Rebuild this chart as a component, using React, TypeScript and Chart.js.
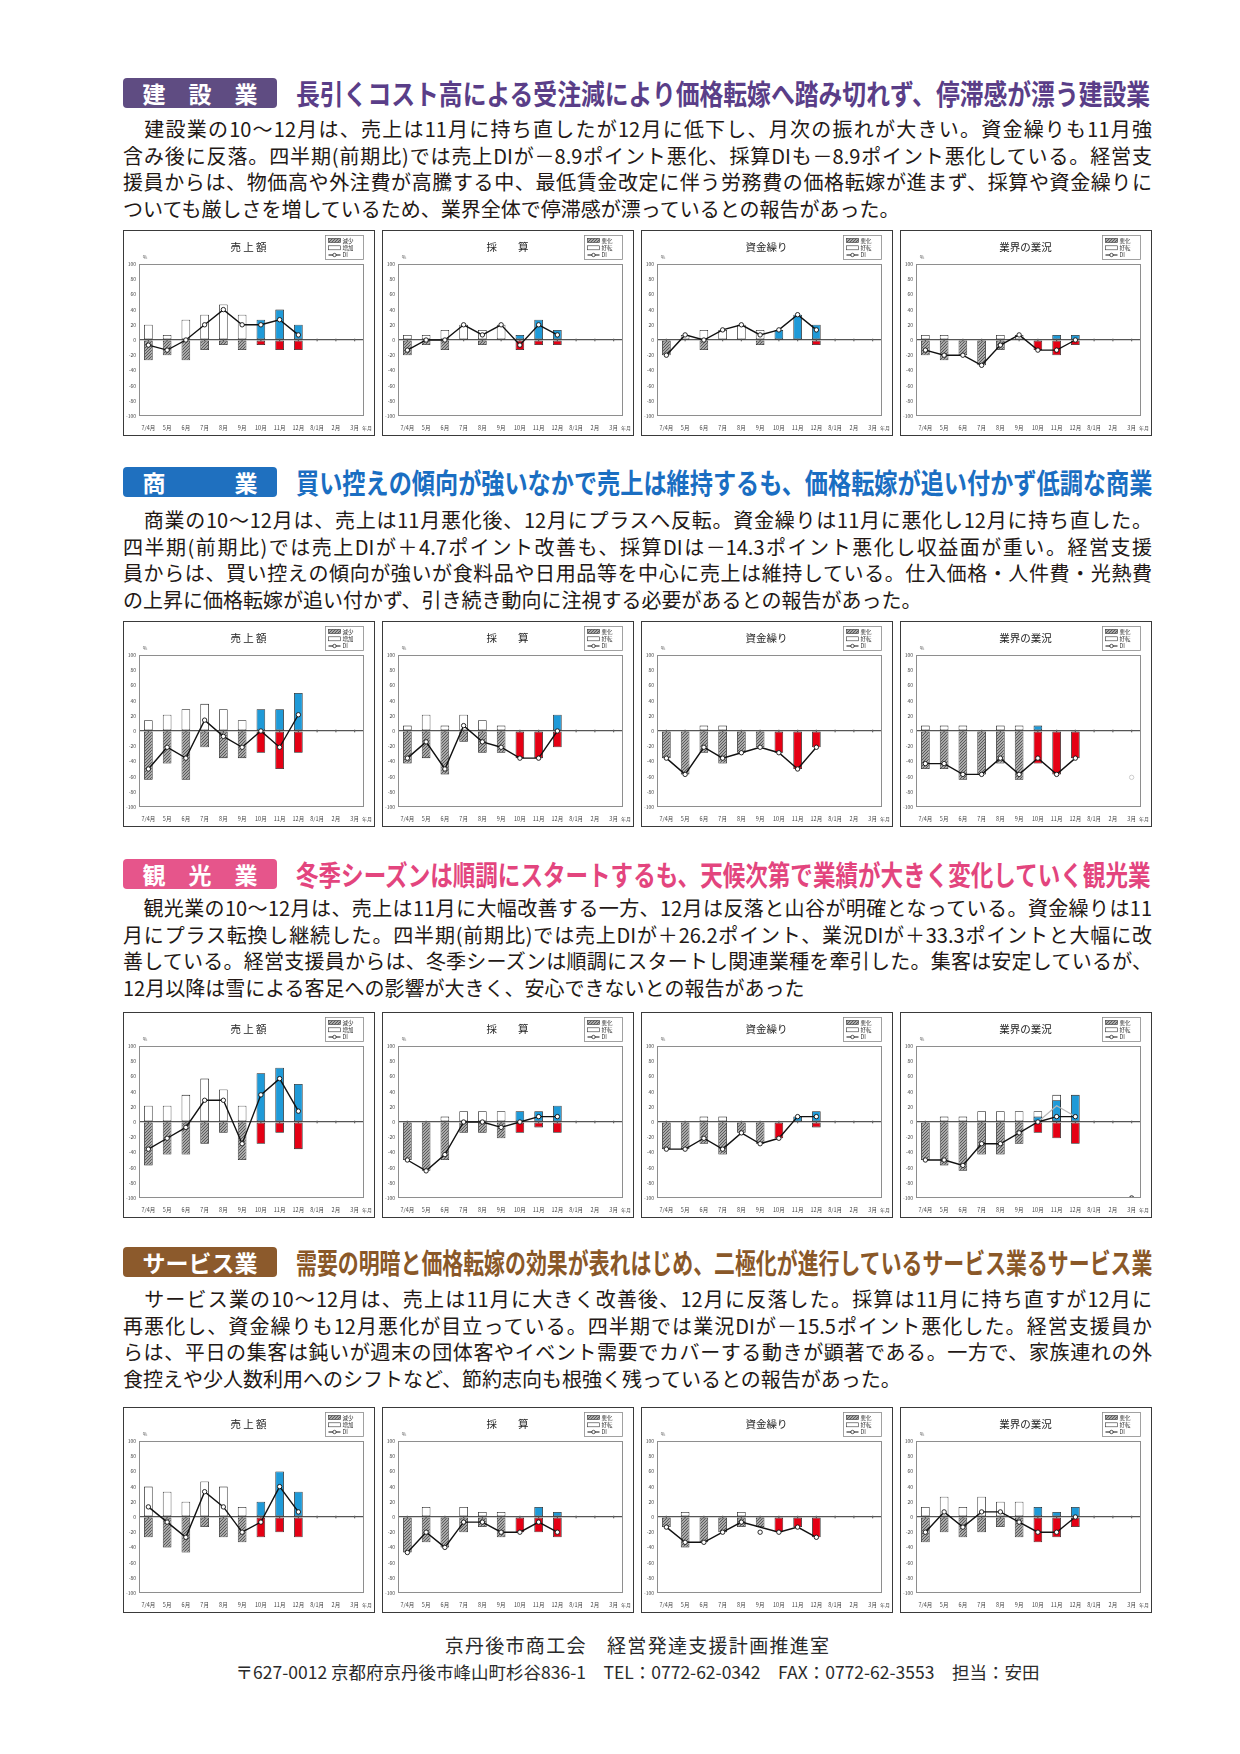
import React, { useEffect, useRef } from "react";
import { Chart, registerables } from "chart.js";
Chart.register(...registerables);

const FF = '"Noto Sans CJK JP", "Noto Sans", sans-serif';
Chart.defaults.font.family = FF;

// ---------- categories / labels ----------
const months = ["7/4月", "5月", "6月", "7月", "8月", "9月", "10月", "11月", "12月", "8/1月", "2月", "3月"];
const chartTitles = ["売 上 額", "採　　算", "資金繰り", "業界の業況"];
const legendSales = ["減少", "増加", "DI"];
const legendOther = ["悪化", "好転", "DI"];

// ---------- 建設業 ----------
const kSalesPos = [20, 6.7, 26.7, 33.3, 46.7, 33.3];
const kSalesNeg = [-26.7, -20, -26.7, -13.3, -6.7, -13.3];
const kSalesBlue = [26.7, 40, 20];
const kSalesRed = [-6.7, -13.3, -13.3];
const kSalesDi = [-6.7, -13.3, 0, 20, 40, 20, 20, 26.7, 6.7];

const kProfitPos = [6.7, 6.7, 13.3, 20, 13.3, 20];
const kProfitNeg = [-20, -6.7, -13.3, 0, -6.7, 0];
const kProfitBlue = [6.7, 26.7, 13.3];
const kProfitRed = [-13.3, -6.7, -6.7];
const kProfitDi = [-13.3, 0, 0, 20, 6.7, 20, -6.7, 20, 6.7];

const kCashPos = [0, 6.7, 13.3, 13.3, 20, 13.3];
const kCashNeg = [-20, 0, -13.3, 0, 0, -6.7];
const kCashBlue = [13.3, 33.3, 20];
const kCashRed = [0, 0, -6.7];
const kCashDi = [-20, 6.7, 0, 13.3, 20, 6.7, 13.3, 33.3, 13.3];

const kBizPos = [6.7, 6.7, 0, 0, 6.7, 6.7];
const kBizNeg = [-20, -26.7, -20, -33.3, -13.3, 0];
const kBizBlue = [0, 6.7, 6.7];
const kBizRed = [-13.3, -20, -6.7];
const kBizDi = [-13.3, -20, -20, -33.3, -6.7, 6.7, -13.3, -13.3, 0];

// ---------- 商業 ----------
const sSalesPos = [14.3, 21.4, 28.6, 35.7, 28.6, 14.3];
const sSalesNeg = [-64.3, -42.9, -64.3, -21.4, -35.7, -35.7];
const sSalesBlue = [28.6, 28.6, 50];
const sSalesRed = [-28.6, -50, -28.6];
const sSalesDi = [-50, -21.4, -35.7, 14.3, -7.1, -21.4, 0, -21.4, 21.4];

const sProfitPos = [7.1, 21.4, 7.1, 21.4, 14.3, 7.1];
const sProfitNeg = [-42.9, -35.7, -57.1, -14.3, -28.6, -28.6];
const sProfitBlue = [0, 0, 21.4];
const sProfitRed = [-35.7, -35.7, -21.4];
const sProfitDi = [-35.7, -14.3, -50, 7.1, -14.3, -21.4, -35.7, -35.7, 0];

const sCashPos = [0, 0, 7.1, 7.1, 0, 0];
const sCashNeg = [-35.7, -57.1, -28.6, -42.9, -28.6, -21.4];
const sCashBlue = [0, 0, 0];
const sCashRed = [-28.6, -50, -21.4];
const sCashDi = [-35.7, -57.1, -21.4, -35.7, -28.6, -21.4, -28.6, -50, -21.4];

const sBizPos = [7.1, 7.1, 7.1, 0, 7.1, 7.1];
const sBizNeg = [-50, -50, -64.3, -57.1, -42.9, -64.3];
const sBizBlue = [7.1, 0, 0];
const sBizRed = [-42.9, -57.1, -35.7];
const sBizDi = [-42.9, -42.9, -57.1, -57.1, -35.7, -57.1, -35.7, -57.1, -35.7];
const sBizStray = [null, null, null, null, null, null, null, null, null, null, null, -61];

// ---------- 観光業 ----------
const tSalesPos = [21.4, 21.4, 35.7, 57.1, 42.9, 21.4];
const tSalesNeg = [-57.1, -42.9, -42.9, -28.6, -14.3, -50];
const tSalesBlue = [64.3, 71.4, 50];
const tSalesRed = [-28.6, -14.3, -35.7];
const tSalesDi = [-35.7, -21.4, -7.1, 28.6, 28.6, -28.6, 35.7, 57.1, 14.3];

const tProfitPos = [0, 0, 7.1, 14.3, 14.3, 14.3];
const tProfitNeg = [-50, -64.3, -50, -14.3, -14.3, -21.4];
const tProfitBlue = [14.3, 14.3, 21.4];
const tProfitRed = [-14.3, -7.1, -14.3];
const tProfitDi = [-50, -64.3, -42.9, 0, 0, -7.1, 0, 7.1, 7.1];

const tCashPos = [0, 0, 7.1, 7.1, 0, 0];
const tCashNeg = [-35.7, -35.7, -28.6, -42.9, -14.3, -28.6];
const tCashBlue = [0, 7.1, 14.3];
const tCashRed = [-21.4, 0, -7.1];
const tCashDi = [-35.7, -35.7, -21.4, -35.7, -14.3, -28.6, -21.4, 7.1, 7.1];

const tBizPos = [0, 7.1, 7.1, 14.3, 14.3, 14.3, 14.3, 35.7];
const tBizNeg = [-50, -57.1, -64.3, -42.9, -42.9, -28.6];
const tBizBlue = [7.1, 28.6, 35.7];
const tBizRed = [-14.3, -21.4, -28.6];
const tBizDi = [-50, -50, -57.1, -28.6, -28.6, -14.3, 0, 7.1, 7.1];
const tBizGhost = [null, null, null, null, null, null, 0, 21.4, 7.1, null, null, null];
const tBizStray = [null, null, null, null, null, null, null, null, null, null, null, -100];

// ---------- サービス業 ----------
const vSalesPos = [40, 33.3, 20, 46.7, 40, 13.3];
const vSalesNeg = [-26.7, -40, -46.7, -13.3, -26.7, -33.3];
const vSalesBlue = [20, 60, 33.3];
const vSalesRed = [-26.7, -20, -26.7];
const vSalesDi = [13.3, -6.7, -26.7, 33.3, 13.3, -20, -6.7, 40, 6.7];

const vProfitPos = [0, 13.3, 0, 13.3, 6.7, 6.7];
const vProfitNeg = [-46.7, -33.3, -40, -20, -13.3, -26.7];
const vProfitBlue = [0, 13.3, 6.7];
const vProfitRed = [-20, -20, -26.7];
const vProfitDi = [-46.7, -20, -40, -6.7, -6.7, -20, -20, -6.7, -20];

const vCashPos = [0, 6.7, 0, 0, 6.7, 0];
const vCashNeg = [-13.3, -40, -33.3, -20, -13.3, -13.3];
const vCashBlue = [0, 0, 0];
const vCashRed = [-20, -13.3, -26.7];
const vCashDi = [-13.3, -33.3, -33.3, -20, -6.7, null, -20, -13.3, -26.7];
const vCashStray = [null, null, null, null, null, -20, null, null, null, null, null, null];

const vBizPos = [13.3, 26.7, 13.3, 26.7, 20, 20];
const vBizNeg = [-33.3, -20, -26.7, -20, -13.3, -26.7];
const vBizBlue = [13.3, 6.7, 13.3];
const vBizRed = [-33.3, -26.7, -13.3];
const vBizDi = [-20, 6.7, -13.3, 6.7, 6.7, -6.7, -20, -20, 0];

// ---------- texts ----------
const kTitle = "長引くコスト高による受注減により価格転嫁へ踏み切れず、停滞感が漂う建設業";
const kLines = [
  "　建設業の10～12月は、売上は11月に持ち直したが12月に低下し、月次の振れが大きい。資金繰りも11月強",
  "含み後に反落。四半期(前期比)では売上DIが－8.9ポイント悪化、採算DIも－8.9ポイント悪化している。経営支",
  "援員からは、物価高や外注費が高騰する中、最低賃金改定に伴う労務費の価格転嫁が進まず、採算や資金繰りに",
  "ついても厳しさを増しているため、業界全体で停滞感が漂っているとの報告があった。",
];
const sTitle = "買い控えの傾向が強いなかで売上は維持するも、価格転嫁が追い付かず低調な商業";
const sLines = [
  "　商業の10～12月は、売上は11月悪化後、12月にプラスへ反転。資金繰りは11月に悪化し12月に持ち直した。",
  "四半期(前期比)では売上DIが＋4.7ポイント改善も、採算DIは－14.3ポイント悪化し収益面が重い。経営支援",
  "員からは、買い控えの傾向が強いが食料品や日用品等を中心に売上は維持している。仕入価格・人件費・光熱費",
  "の上昇に価格転嫁が追い付かず、引き続き動向に注視する必要があるとの報告があった。",
];
const tTitle = "冬季シーズンは順調にスタートするも、天候次第で業績が大きく変化していく観光業";
const tLines = [
  "　観光業の10～12月は、売上は11月に大幅改善する一方、12月は反落と山谷が明確となっている。資金繰りは11",
  "月にプラス転換し継続した。四半期(前期比)では売上DIが＋26.2ポイント、業況DIが＋33.3ポイントと大幅に改",
  "善している。経営支援員からは、冬季シーズンは順調にスタートし関連業種を牽引した。集客は安定しているが、",
  "12月以降は雪による客足への影響が大きく、安心できないとの報告があった",
];
const vTitle = "需要の明暗と価格転嫁の効果が表れはじめ、二極化が進行しているサービス業るサービス業";
const vLines = [
  "　サービス業の10～12月は、売上は11月に大きく改善後、12月に反落した。採算は11月に持ち直すが12月に",
  "再悪化し、資金繰りも12月悪化が目立っている。四半期では業況DIが－15.5ポイント悪化した。経営支援員か",
  "らは、平日の集客は鈍いが週末の団体客やイベント需要でカバーする動きが顕著である。一方で、家族連れの外",
  "食控えや少人数利用へのシフトなど、節約志向も根強く残っているとの報告があった。",
];
const footer1 = "京丹後市商工会　経営発達支援計画推進室";
const footer2 = "〒627-0012 京都府京丹後市峰山町杉谷836-1　TEL：0772-62-0342　FAX：0772-62-3553　担当：安田";

type Spec = {
  title: string;
  legend: string[];
  pos: number[];
  neg: number[];
  blue: number[];
  red: number[];
  di: (number | null)[];
  ghost?: (number | null)[];
  stray?: (number | null)[];
  strayFaint?: boolean;
  span?: boolean;
};

const mk = (i: number, pos: number[], neg: number[], blue: number[], red: number[], di: (number | null)[], extra: Partial<Spec> = {}): Spec => ({
  title: chartTitles[i],
  legend: i === 0 ? legendSales : legendOther,
  pos, neg, blue, red, di, ...extra,
});

const SECTIONS = [
  {
    top: 78, textTop: 116, chartTop: 230, box: "#5f4c82", color: "#5a3e88", label: "建　設　業", title: kTitle, lines: kLines,
    charts: [
      mk(0, kSalesPos, kSalesNeg, kSalesBlue, kSalesRed, kSalesDi),
      mk(1, kProfitPos, kProfitNeg, kProfitBlue, kProfitRed, kProfitDi),
      mk(2, kCashPos, kCashNeg, kCashBlue, kCashRed, kCashDi),
      mk(3, kBizPos, kBizNeg, kBizBlue, kBizRed, kBizDi),
    ],
  },
  {
    top: 467, textTop: 507, chartTop: 621, box: "#1f70bf", color: "#1a6ec2", label: "商　　　業", title: sTitle, lines: sLines,
    charts: [
      mk(0, sSalesPos, sSalesNeg, sSalesBlue, sSalesRed, sSalesDi),
      mk(1, sProfitPos, sProfitNeg, sProfitBlue, sProfitRed, sProfitDi),
      mk(2, sCashPos, sCashNeg, sCashBlue, sCashRed, sCashDi),
      mk(3, sBizPos, sBizNeg, sBizBlue, sBizRed, sBizDi, { stray: sBizStray, strayFaint: true }),
    ],
  },
  {
    top: 859, textTop: 895, chartTop: 1012, box: "#e6558b", color: "#e3457e", label: "観　光　業", title: tTitle, lines: tLines,
    charts: [
      mk(0, tSalesPos, tSalesNeg, tSalesBlue, tSalesRed, tSalesDi),
      mk(1, tProfitPos, tProfitNeg, tProfitBlue, tProfitRed, tProfitDi),
      mk(2, tCashPos, tCashNeg, tCashBlue, tCashRed, tCashDi),
      mk(3, tBizPos, tBizNeg, tBizBlue, tBizRed, tBizDi, { ghost: tBizGhost, stray: tBizStray }),
    ],
  },
  {
    top: 1247, textTop: 1286, chartTop: 1407, box: "#8c5a2c", color: "#8a5828", label: "サービス業", title: vTitle, lines: vLines,
    charts: [
      mk(0, vSalesPos, vSalesNeg, vSalesBlue, vSalesRed, vSalesDi),
      mk(1, vProfitPos, vProfitNeg, vProfitBlue, vProfitRed, vProfitDi),
      mk(2, vCashPos, vCashNeg, vCashBlue, vCashRed, vCashDi, { stray: vCashStray, span: true }),
      mk(3, vBizPos, vBizNeg, vBizBlue, vBizRed, vBizDi),
    ],
  },
];

const CHART_LEFTS = [123, 382, 641, 900];
const CW = 252;
const CH = 206;

function makeHatch(): any {
  const c = document.createElement("canvas");
  c.width = 3;
  c.height = 3;
  const g = c.getContext("2d");
  if (!g) return "#999";
  g.fillStyle = "#a9a9a9";
  g.fillRect(0, 0, 3, 3);
  g.fillStyle = "#5a5a5a";
  for (let i = 0; i < 3; i++) g.fillRect(i, 2 - i, 1, 1);
  return g.createPattern(c, "repeat") || "#999";
}

const place = (vals: number[], start: number) =>
  months.map((_, i) => {
    const v = vals[i - start];
    return v == null || v === 0 ? null : v;
  });
const line = (vals: (number | null)[]) => months.map((_, i) => (i < vals.length ? vals[i] : null));

function buildConfig(spec: Spec, hatch: any): any {
  const barCommon = {
    type: "bar",
    grouped: false,
    barPercentage: 0.46,
    categoryPercentage: 1,
    borderColor: "#1a1a1a",
    borderWidth: 0.8,
    borderSkipped: false,
  };
  const datasets: any[] = [
    {
      type: "line", label: "DI", data: line(spec.di), order: 0,
      borderColor: "#111", borderWidth: 1.4, pointRadius: 2.2, pointBackgroundColor: "#fff",
      pointBorderColor: "#111", pointBorderWidth: 0.9, spanGaps: !!spec.span, tension: 0,
    },
    { ...barCommon, label: "red", data: place(spec.red, 6), backgroundColor: "#e50014", order: 2 },
    { ...barCommon, label: "blue", data: place(spec.blue, 6), backgroundColor: "#1f9ad8", order: 3 },
    { ...barCommon, label: spec.legend[0], data: place(spec.neg, 0), backgroundColor: hatch, order: 4 },
    { ...barCommon, label: spec.legend[1], data: place(spec.pos, 0), backgroundColor: "#ffffff", order: 5 },
  ];
  if (spec.ghost) {
    datasets.push({
      type: "line", label: "ghost", data: spec.ghost, order: 1,
      borderColor: "#b8b8b8", borderWidth: 1.2, pointRadius: 0, tension: 0,
    });
  }
  if (spec.stray) {
    const c = spec.strayFaint ? "#c8c8c8" : "#111";
    datasets.push({
      type: "line", label: "stray", data: spec.stray, order: 0.5, showLine: false,
      pointRadius: 2.2, pointBackgroundColor: "#fff", pointBorderColor: c, pointBorderWidth: 0.9,
    });
  }

  const decor = {
    id: "decor",
    beforeDatasetsDraw(chart: any) {
      const { ctx, scales } = chart;
      const y0 = scales.y.getPixelForValue(0);
      ctx.save();
      ctx.fillStyle = "#666";
      for (let i = 0; i < months.length; i++) {
        const x = scales.x.getPixelForValue(i);
        ctx.fillRect(x - 0.6, y0 - 1.3, 1.2, 2.6);
      }
      ctx.restore();
    },
    afterDraw(chart: any) {
      const { ctx, chartArea: a } = chart;
      ctx.save();
      ctx.strokeStyle = "#8e8e8e";
      ctx.lineWidth = 1;
      ctx.strokeRect(Math.round(a.left) + 0.5, Math.round(a.top) + 0.5, Math.round(a.right - a.left) - 1, Math.round(a.bottom - a.top) - 1);
      ctx.fillStyle = "#222";
      ctx.font = `10.5px ${FF}`;
      ctx.textAlign = "center";
      ctx.textBaseline = "middle";
      ctx.fillText(spec.title, (a.left + a.right) / 2 - 3, 16);
      ctx.font = `5px ${FF}`;
      ctx.fillStyle = "#555";
      ctx.fillText("%", a.left + 6, a.top - 7);
      ctx.textAlign = "right";
      ctx.fillText("年月", chart.width - 1, a.bottom + 12);
      // legend box
      const lw = 38, lh = 24;
      const lx = a.right - lw - 0.5, ly = 4.5;
      ctx.fillStyle = "#fff";
      ctx.fillRect(lx, ly, lw, lh);
      ctx.strokeStyle = "#8a8a8a";
      ctx.lineWidth = 0.8;
      ctx.strokeRect(lx, ly, lw, lh);
      const rows = [ly + 5, ly + 12.3, ly + 19.5];
      ctx.fillStyle = hatch;
      ctx.fillRect(lx + 3, rows[0] - 2, 12, 4);
      ctx.strokeStyle = "#333";
      ctx.lineWidth = 0.6;
      ctx.strokeRect(lx + 3, rows[0] - 2, 12, 4);
      ctx.fillStyle = "#fff";
      ctx.fillRect(lx + 3, rows[1] - 2, 12, 4);
      ctx.strokeRect(lx + 3, rows[1] - 2, 12, 4);
      ctx.strokeStyle = "#111";
      ctx.lineWidth = 1;
      ctx.beginPath();
      ctx.moveTo(lx + 3, rows[2]);
      ctx.lineTo(lx + 15, rows[2]);
      ctx.stroke();
      ctx.beginPath();
      ctx.arc(lx + 9, rows[2], 1.7, 0, Math.PI * 2);
      ctx.fillStyle = "#fff";
      ctx.fill();
      ctx.lineWidth = 0.7;
      ctx.stroke();
      ctx.fillStyle = "#333";
      ctx.font = `5.5px ${FF}`;
      ctx.textAlign = "left";
      spec.legend.forEach((t, i) => ctx.fillText(t, lx + 17, rows[i]));
      ctx.restore();
    },
  };

  return {
    type: "bar",
    data: { labels: months, datasets },
    plugins: [decor],
    options: {
      animation: false,
      responsive: false,
      events: [],
      layout: { padding: { left: 1, right: 9, top: 33, bottom: 0 } },
      plugins: { legend: { display: false }, tooltip: { enabled: false }, title: { display: false } },
      scales: {
        x: {
          grid: { display: false, drawTicks: false },
          border: { display: false },
          ticks: { font: { size: 5.5, family: FF }, color: "#444", padding: 9, maxRotation: 0, autoSkip: false },
          afterFit: (s: any) => { s.height = 18; },
        },
        y: {
          min: -100,
          max: 100,
          ticks: { stepSize: 20, font: { size: 5, family: FF }, color: "#444", padding: 3 },
          grid: {
            drawTicks: false,
            color: (c: any) => (c.tick && c.tick.value === 0 ? "#555" : "rgba(0,0,0,0)"),
            lineWidth: (c: any) => (c.tick && c.tick.value === 0 ? 1.2 : 0),
          },
          border: { display: false },
          afterFit: (s: any) => { s.width = 14; },
        },
      },
    },
  };
}

function MiniChart({ spec, left, top }: { spec: Spec; left: number; top: number }) {
  const ref = useRef<HTMLCanvasElement>(null);
  useEffect(() => {
    const cv = ref.current;
    if (!cv) return;
    const chart = new Chart(cv, buildConfig(spec, makeHatch()));
    return () => chart.destroy();
  }, [spec]);
  return (
    <div style={{ position: "absolute", left, top, width: CW, height: CH, boxSizing: "border-box", border: "1.5px solid #3a3a3a", background: "#fff" }}>
      <canvas ref={ref} width={CW - 3} height={CH - 3} style={{ display: "block", width: CW - 3, height: CH - 3 }} />
    </div>
  );
}

const TITLE_FS = 28;
const TITLE_W = 857;

function Section({ s }: { s: (typeof SECTIONS)[number] }) {
  const n = Array.from(s.title).length;
  const scale = TITLE_W / (n * TITLE_FS);
  return (
    <>
      <div style={{ position: "absolute", left: 123, top: s.top, width: 154, height: 30, background: s.box, borderRadius: 4, color: "#fff", fontFamily: FF, fontWeight: 700, fontSize: 23, lineHeight: "30px", textAlign: "center", whiteSpace: "nowrap" }}>
        {s.label}
      </div>
      <div style={{ position: "absolute", left: 296, top: s.top - 2, height: 34, lineHeight: "34px", fontFamily: FF, fontWeight: 700, fontSize: TITLE_FS, color: s.color, whiteSpace: "nowrap", transform: `scaleX(${scale})`, transformOrigin: "left center" }}>
        {s.title}
      </div>
      <div style={{ position: "absolute", left: 123, top: s.textTop, width: 1029, fontFamily: FF, fontSize: 20, color: "#231815" }}>
        {s.lines.map((l, i) => (
          <div key={i} style={{ height: 26.5, lineHeight: "26.5px", textAlign: "justify", textAlignLast: i === s.lines.length - 1 ? "left" : "justify", whiteSpace: "normal" } as any}>
            {l}
          </div>
        ))}
      </div>
      {s.charts.map((c, i) => (
        <MiniChart key={i} spec={c} left={CHART_LEFTS[i]} top={s.chartTop} />
      ))}
    </>
  );
}

export default function App() {
  return (
    <div style={{ position: "absolute", left: 0, top: 0, width: 1240, height: 1754, background: "#fff", overflow: "hidden" }}>
      {SECTIONS.map((s, i) => (
        <Section key={i} s={s} />
      ))}
      <div style={{ position: "absolute", left: 123, width: 1029, top: 1632, textAlign: "center", fontFamily: FF, fontSize: 19, letterSpacing: 1.3, lineHeight: "26px", color: "#2a2a2a" }}>
        {footer1}
      </div>
      <div style={{ position: "absolute", left: 123, width: 1029, top: 1660, textAlign: "center", fontFamily: FF, fontSize: 17.5, lineHeight: "24px", color: "#2a2a2a" }}>
        {footer2}
      </div>
    </div>
  );
}
